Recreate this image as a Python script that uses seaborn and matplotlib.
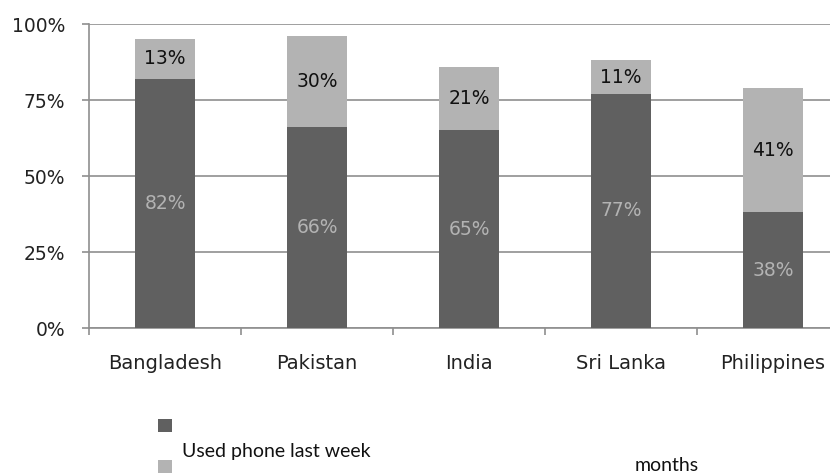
import matplotlib
matplotlib.use("Agg")
import matplotlib.pyplot as plt
from matplotlib.patches import Rectangle
from matplotlib.ticker import FixedLocator, PercentFormatter
import seaborn as sns
import pandas as pd

countries = ["Bangladesh", "Pakistan", "India", "Sri Lanka", "Philippines"]
last_week = [82, 66, 65, 77, 38]
last_months = [13, 30, 21, 11, 41]
yticks = [0, 25, 50, 75, 100]

DARK = "#606060"
LIGHT = "#b3b3b3"
GRID = "#8f8f8f"

sns.set_theme(style="white")
plt.rcParams["font.family"] = ["DejaVu Sans"]

W, H = 830, 475
fig = plt.figure(figsize=(W / 100, H / 100), dpi=100)
fig.patch.set_facecolor("white")

def px(x0, y0, x1, y1):
    return [x0 / W, 1 - y1 / H, (x1 - x0) / W, (y1 - y0) / H]

ax = fig.add_axes(px(89, 24, 849, 328))
ax.set_facecolor("white")

df = pd.DataFrame({
    "country": countries,
    "week": [v / 100 for v in last_week],
    "total": [(a + b) / 100 for a, b in zip(last_week, last_months)],
})

sns.barplot(data=df, x="country", y="total", color=LIGHT, saturation=1,
            width=0.4, ax=ax, edgecolor="none", zorder=3)
sns.barplot(data=df, x="country", y="week", color=DARK, saturation=1,
            width=0.4, ax=ax, edgecolor="none", zorder=3)

ax.set_xlim(-0.5, len(countries) - 0.5)
ax.set_ylim(0, 1)
ax.set_xlabel("")
ax.set_ylabel("")

ax.yaxis.set_major_locator(FixedLocator([t / 100 for t in yticks]))
ax.yaxis.set_major_formatter(PercentFormatter(1.0, decimals=0))
ax.grid(axis="y", color=GRID, linewidth=1.2, zorder=0)
ax.set_axisbelow(True)

for s in ["top", "right"]:
    ax.spines[s].set_visible(False)
for s in ["left", "bottom"]:
    ax.spines[s].set_visible(True)
    ax.spines[s].set_color(GRID)
    ax.spines[s].set_linewidth(1.2)

ax.tick_params(axis="y", which="major", left=True, length=5, width=1.2,
               color=GRID, pad=12, labelsize=13.5, labelcolor="#222222")
ax.tick_params(axis="x", which="major", bottom=False, length=0, pad=19,
               labelsize=14, labelcolor="#222222")
ax.xaxis.set_minor_locator(FixedLocator([i + 0.5 for i in range(-1, len(countries))]))
ax.tick_params(axis="x", which="minor", bottom=True, length=5, width=1.2,
               color=GRID)

for i, (a, b) in enumerate(zip(last_week, last_months)):
    ax.text(i, a / 200, f"{a}%", ha="center", va="center", fontsize=13.5,
            color="#b3b3b3", zorder=5)
    ax.text(i, (a + b / 2) / 100, f"{b}%", ha="center", va="center",
            fontsize=13.5, color="#111111", zorder=5)

# legend (partially overwritten in the original)
def rect(x0, y0, x1, y1, c):
    fig.patches.append(Rectangle((x0 / W, 1 - y1 / H), (x1 - x0) / W, (y1 - y0) / H,
                                 transform=fig.transFigure, facecolor=c,
                                 edgecolor="none"))

rect(158, 419, 172, 432, DARK)
rect(158, 460, 172, 473, LIGHT)
fig.text(182 / W, 1 - 457 / H, "Used phone last week", family=["Lato", "DejaVu Sans"],
         fontsize=14, color="#111111", ha="left", va="baseline")
fig.text(635 / W, 1 - 471 / H, "months", family=["Lato", "DejaVu Sans"],
         fontsize=14, color="#111111", ha="left", va="baseline")

fig.savefig("out.png", dpi=100, facecolor="white")
